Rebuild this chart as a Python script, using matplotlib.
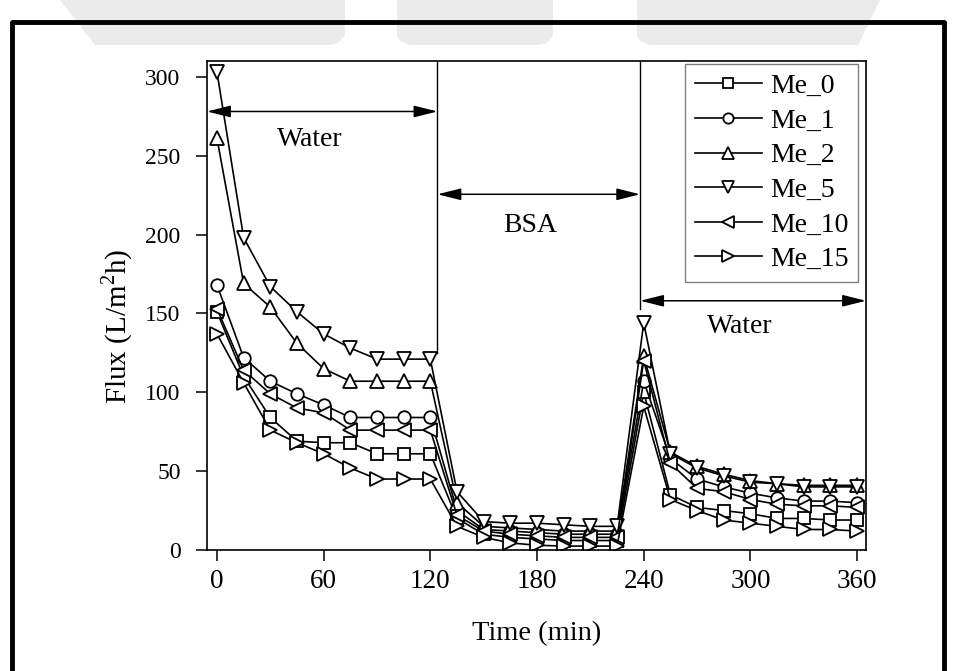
import matplotlib
matplotlib.use("Agg")
import matplotlib.pyplot as plt
from matplotlib.lines import Line2D
from matplotlib.patches import Polygon

plt.rcParams['font.family'] = ['Liberation Serif', 'DejaVu Serif']
plt.rcParams['mathtext.fontset'] = 'custom'
plt.rcParams['mathtext.rm'] = 'Liberation Serif'

# ---- data ----
time_min = [0, 15, 30, 45, 60, 75, 90, 105, 120,
            135, 150, 165, 180, 195, 210, 225,
            240, 255, 270, 285, 300, 315, 330, 345, 360]

me_0 = [151, 110, 84, 69, 68, 68, 61, 61, 61,
        20, 10, 8, 7, 6, 6, 6,
        100, 35, 27, 25, 23, 20, 20, 19, 19]
me_1 = [168, 122, 107, 99, 92, 84, 84, 84, 84,
        25, 13, 12, 11, 10, 10, 10,
        107, 58, 45, 40, 36, 33, 31, 31, 30]
me_2 = [261, 169, 154, 131, 115, 107, 107, 107, 107,
        30, 15, 14, 13, 12, 12, 12,
        123, 62, 53, 48, 44, 42, 41, 41, 41]
me_5 = [303, 198, 167, 151, 137, 128, 121, 121, 121,
        37, 18, 17, 17, 16, 15, 15,
        144, 61, 52, 47, 43, 42, 40, 40, 40]
me_10 = [153, 114, 99, 90, 87, 76, 76, 76, 76,
         22, 12, 10, 9, 8, 8, 8,
         120, 55, 39, 37, 32, 29, 28, 28, 27]
me_15 = [137, 106, 76, 68, 61, 52, 45, 45, 45,
         15, 8, 4.5, 3, 2.5, 2.5, 2.5,
         91, 32, 25, 19, 17, 15, 13, 13, 12]

series_names = ['Me_0', 'Me_1', 'Me_2', 'Me_5', 'Me_10', 'Me_15']
series_values = [me_0, me_1, me_2, me_5, me_10, me_15]
markers = ['s', 'o', '^', 'v', '<', '>']
msizes = [8.0, 9.0, 10.5, 10.5, 10.5, 10.5]

x_ticks = [0, 60, 120, 180, 240, 300, 360]
y_ticks = [0, 50, 100, 150, 200, 250, 300]

phase_labels = ['Water', 'BSA', 'Water']
phase_bounds = [-5.6, 124, 238, 365]

# ---- figure ----
W, H = 954, 671
fig = plt.figure(figsize=(W / 100, H / 100), dpi=100)

# faint background watermark at the top (figure pixel coords)
def px(pts):
    return [(x / W, 1 - y / H) for x, y in pts]

wm_color = '#ebebeb'
for shape in ([(60, 0), (345, 0), (345, 36), (338, 43), (330, 45), (95, 45)],
              [(397, 0), (553, 0), (553, 36), (547, 43), (538, 45),
               (410, 45), (400, 41), (397, 36)],
              [(637, 0), (880, 0), (858, 45), (650, 45), (640, 41), (637, 36)]):
    fig.add_artist(Polygon(px(shape), closed=True, transform=fig.transFigure,
                           facecolor=wm_color, edgecolor='none', zorder=0))

ax = fig.add_axes([207 / W, 1 - 550 / H, (866 - 207) / W, (550 - 61) / H])

for name, vals, mk, ms in zip(series_names, series_values, markers, msizes):
    ax.plot(time_min, vals, color='black', lw=1.2, marker=mk, ms=ms,
            mfc='white', mec='black', mew=1.3, label=name)

ax.set_xlim(-5.6, 365)
ax.set_ylim(0, 310)
ax.set_xticks(x_ticks)
ax.set_yticks(y_ticks)
ax.tick_params(direction='out', length=8, width=1.1, colors='black')
ax.tick_params(axis='x', labelsize=19.5, pad=6)
ax.tick_params(axis='y', labelsize=17, pad=11)
for s in ax.spines.values():
    s.set_linewidth(1.2)

ax.set_xlabel('Time (min)', fontsize=20.5, labelpad=19)
ax.set_ylabel('Flux (L/m$^{2}$h)', fontsize=21)
ax.yaxis.set_label_coords(-0.109, 0.458)

# phase separators
ax.plot([124, 124], [125, 310], color='black', lw=1.0)
ax.plot([238, 238], [153, 310], color='black', lw=1.0)

arrow_y = [278, 225.5, 158]
text_pos = [(52, 260), (176, 206), (294, 142)]
for i, lab in enumerate(phase_labels):
    ax.annotate('', xy=(phase_bounds[i], arrow_y[i]),
                xytext=(phase_bounds[i + 1], arrow_y[i]),
                arrowprops=dict(arrowstyle='<|-|>,head_length=0.8,head_width=0.2',
                                color='black', lw=1.1, shrinkA=0, shrinkB=0,
                                mutation_scale=18),
                annotation_clip=False)
    ax.text(text_pos[i][0], text_pos[i][1], lab, fontsize=20,
            ha='center', va='center')

leg = ax.legend(loc='upper right', bbox_to_anchor=(0.988, 0.994),
                borderaxespad=0, fontsize=20, frameon=True, fancybox=False,
                edgecolor='#808080', framealpha=1, handlelength=2.4,
                handletextpad=0.3, labelspacing=0.33, markerscale=0.82,
                borderpad=0.35)
leg.get_frame().set_linewidth(1.0)

# outer frame
fig.add_artist(Line2D([12 / W, 12 / W, 944 / W, 944 / W],
                      [0, 1 - 22 / H, 1 - 22 / H, 0],
                      transform=fig.transFigure, color='black', lw=3.5,
                      zorder=5))

fig.savefig('out.png', dpi=100, facecolor='white')
